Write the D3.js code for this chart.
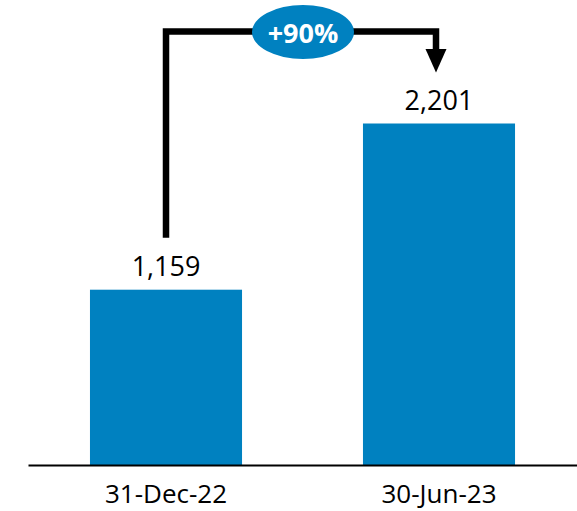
<!DOCTYPE html>
<html>
<head>
<meta charset="utf-8">
<script src="https://cdn.jsdelivr.net/npm/d3@7"></script>
<style>
  body { margin: 0; background: #fff; }
  svg { display: block; font-family: "Open Sans", sans-serif; }
</style>
</head>
<body>
<div id="chart"></div>
<script>
// data
const categories = ['31-Dec-22', '30-Jun-23'];
const values = [1159, 2201];
const changeLabel = '+90%';

const width = 577, height = 511;
const baseline = 465;
const barColor = '#0081C0';

const svg = d3.select('#chart').append('svg')
  .attr('width', width)
  .attr('height', height);

const x = d3.scaleBand()
  .domain(categories)
  .range([28, 577])
  .paddingInner(0.443)
  .paddingOuter(0.227);

// axis floor sits a little above zero in the original
const y = d3.scaleLinear()
  .domain([60, 2201])
  .range([baseline, 123.5]);

// bars
svg.selectAll('.bar')
  .data(values)
  .enter()
  .append('rect')
  .attr('class', 'bar')
  .attr('x', (d, i) => x(categories[i]))
  .attr('y', d => y(d))
  .attr('width', x.bandwidth())
  .attr('height', d => baseline - y(d))
  .attr('fill', barColor);

// value labels
svg.selectAll('.value')
  .data(values)
  .enter()
  .append('text')
  .attr('class', 'value')
  .attr('x', (d, i) => x(categories[i]) + x.bandwidth() / 2)
  .attr('y', d => y(d) - 14)
  .attr('text-anchor', 'middle')
  .style('font-size', '27px')
  .style('fill', '#000')
  .text(d => d3.format(',')(d));

// x axis
const xAxis = d3.axisBottom(x).tickSize(0).tickSizeOuter(0);
const gx = svg.append('g')
  .attr('class', 'x axis')
  .attr('transform', `translate(0,${baseline})`)
  .call(xAxis);
gx.select('.domain').attr('stroke', '#000').attr('stroke-width', 2);
gx.selectAll('text')
  .attr('y', 38)
  .attr('dy', 0)
  .style('font-size', '26px')
  .style('font-family', '"Open Sans", sans-serif')
  .style('fill', '#000');

// growth bracket from first bar label to second bar label
const x0 = x(categories[0]) + x.bandwidth() / 2;
const x1 = x(categories[1]) + x.bandwidth() / 2 - 3;
const topY = 31.5;
const headTop = 49, headTip = 72.5, headHalf = 10.5;

svg.append('path')
  .attr('d', `M${x0},${y(values[0]) - 52} V${topY} H${x1} V${headTop + 1}`)
  .attr('fill', 'none')
  .attr('stroke', '#000')
  .attr('stroke-width', 6.5);

svg.append('path')
  .attr('d', `M${x1 - headHalf},${headTop} L${x1 + headHalf},${headTop} L${x1},${headTip} Z`)
  .attr('fill', '#000');

// change badge
const badgeX = (x0 + x1) / 2 + 2;
svg.append('ellipse')
  .attr('cx', badgeX)
  .attr('cy', 32)
  .attr('rx', 51)
  .attr('ry', 27)
  .attr('fill', barColor);

svg.append('text')
  .attr('x', badgeX)
  .attr('y', 42.5)
  .attr('text-anchor', 'middle')
  .style('font-size', '27px')
  .style('font-weight', 'bold')
  .style('fill', '#fff')
  .text(changeLabel);
</script>
</body>
</html>
